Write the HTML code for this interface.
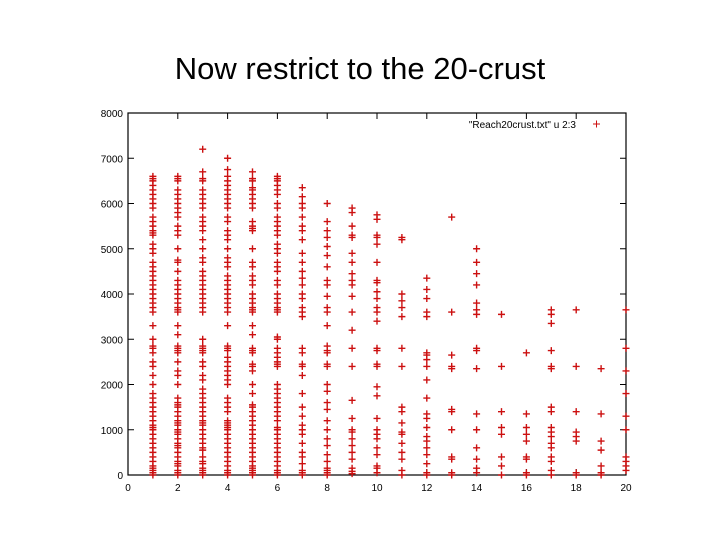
<!DOCTYPE html>
<html><head><meta charset="utf-8"><style>
body{margin:0;background:#fff;width:720px;height:540px;overflow:hidden}
svg{display:block}
text{font-family:"Liberation Sans",sans-serif}
</style></head><body>
<svg id="chart" width="720" height="540">
<text x="360" y="79" text-anchor="middle" font-size="31" fill="#000">Now restrict to the 20-crust</text>
<g id="axes"></g><g id="marks"></g>
</svg>
<script>
const xTicks=[0,2,4,6,8,10,12,14,16,18,20];
const yTicks=[0,1000,2000,3000,4000,5000,6000,7000,8000];
const legendLabel='"Reach20crust.txt" u 2:3';
const col1=[0,50,100,150,200,300,400,500,600,700,800,900,1000,1050,1100,1200,1300,1400,1500,1600,1700,1800,2000,2200,2400,2500,2700,2800,2850,3000,3300,3600,3700,3800,3900,4000,4100,4200,4300,4400,4500,4600,4700,4900,5000,5100,5300,5350,5400,5500,5600,5700,5900,6000,6100,6200,6300,6400,6500,6550,6600];
const col2=[0,50,100,200,250,300,400,500,600,650,700,800,900,950,1000,1100,1150,1200,1300,1400,1500,1550,1600,1700,2000,2200,2300,2500,2700,2750,2800,2850,3100,3300,3600,3650,3700,3800,3900,4000,4100,4200,4300,4500,4700,4750,5000,5300,5400,5500,5700,5800,5900,6000,6100,6200,6300,6500,6550,6600];
const col3=[0,50,100,150,250,300,400,550,600,700,800,900,1000,1100,1150,1200,1300,1400,1500,1600,1700,1800,1900,2100,2200,2400,2500,2700,2750,2800,2850,3000,3600,3700,3800,3900,4000,4100,4200,4300,4400,4500,4700,4800,5000,5200,5400,5500,5600,5700,5900,6000,6100,6200,6300,6500,6550,6700,7200];
const col4=[0,50,100,200,300,400,500,600,700,800,900,1000,1050,1100,1150,1200,1400,1500,1600,1700,2000,2100,2200,2300,2400,2500,2600,2750,2800,2850,3300,3600,3700,3800,3900,4000,4100,4200,4300,4400,4600,4700,4800,5000,5200,5300,5400,5600,5700,5900,6000,6100,6200,6300,6400,6500,6600,6750,7000];
const col5=[0,50,100,150,200,300,400,500,600,700,800,900,1000,1100,1200,1300,1400,1500,1550,1800,2000,2300,2400,2450,2700,2750,2800,3100,3300,3600,3650,3700,3800,3900,4000,4200,4300,4400,4600,4700,5000,5400,5450,5500,5600,5900,6000,6100,6200,6300,6350,6500,6550,6700];
const col6=[0,50,100,200,300,400,500,600,700,800,900,1000,1050,1200,1300,1400,1500,1600,1700,1800,1900,2000,2400,2450,2500,2600,2700,2800,3000,3050,3600,3650,3700,3800,3900,4000,4200,4300,4500,4600,4700,4900,5000,5100,5300,5400,5500,5600,5700,5900,6000,6200,6300,6400,6500,6550,6600];
const col7=[0,50,100,250,400,500,700,900,1000,1100,1300,1500,1800,2200,2400,2450,2700,2800,3500,3600,3700,3900,4000,4200,4350,4500,4700,4900,5200,5400,5500,5700,5900,6000,6150,6350];
const col8=[0,50,100,150,300,450,650,800,1000,1200,1450,1600,1850,2000,2400,2450,2700,2750,2850,3300,3600,3700,3950,4200,4300,4600,4850,5050,5250,5400,5600,6000];
const col9=[30,80,150,350,500,650,800,950,1000,1250,1650,2400,2800,3200,3600,3950,4200,4300,4450,4700,4900,5250,5300,5500,5800,5900];
const col10=[50,150,200,450,600,800,900,1000,1250,1750,1950,2400,2450,2750,2800,3400,3600,3700,3900,4050,4250,4300,4700,5100,5250,5300,5650,5750];
const col11=[0,100,350,500,700,900,950,1150,1400,1500,2400,2800,3500,3700,3850,4000,5200,5250];
const col12=[0,50,250,450,600,750,850,1050,1250,1350,1700,2100,2400,2550,2650,2700,3500,3600,3900,4100,4350];
const col13=[0,50,350,400,1000,1400,1450,2350,2400,2650,3600,5700];
const col14=[50,150,350,600,1000,1350,2350,2750,2800,3550,3650,3800,4200,4450,4700,5000];
const col15=[0,200,400,900,1050,1400,2400,3550];
const col16=[0,50,350,400,750,900,1050,1350,2700];
const col17=[0,100,300,400,600,700,850,950,1050,1400,1500,2350,2400,2750,3350,3550,3650];
const col18=[0,50,750,850,950,1400,2400,3650];
const col19=[0,50,200,550,750,1350,2350];
const col20=[100,200,300,400,1000,1300,1800,2300,2800,3650];
const columns=[col1,col2,col3,col4,col5,col6,col7,col8,col9,col10,col11,col12,col13,col14,col15,col16,col17,col18,col19,col20];
const X0=128,X1=626,Y0=475,Y1=113;
const sx=v=>X0+(X1-X0)*v/20, sy=v=>Y0-(Y0-Y1)*v/8000;
const NS='http://www.w3.org/2000/svg';
const axes=document.getElementById('axes'), marks=document.getElementById('marks');
function mk(tag,attrs,parent){const e=document.createElementNS(NS,tag);for(const k in attrs)e.setAttribute(k,attrs[k]);parent.appendChild(e);return e;}
const frame=mk('rect',{x:X0,y:Y1,width:X1-X0,height:Y0-Y1,fill:'none',stroke:'#000','stroke-width':1.2},axes);


xTicks.forEach(t=>{const x=sx(t);
 const l=mk('path',{d:`M${x},${Y0}v-6M${x},${Y1}v6`,stroke:'#000'},axes);
 
 
 const tx=mk('text',{x:x,y:Y0+16,'text-anchor':'middle','font-size':10},axes);tx.textContent=t;
 
 });
yTicks.forEach(t=>{const y=sy(t);
 const l=mk('path',{d:`M${X0},${y}h6M${X1},${y}h-6`,stroke:'#000'},axes);
 
 
 const tx=mk('text',{x:X0-5,y:y+4,'text-anchor':'end','font-size':10},axes);tx.textContent=t;
 
 });
const lg=mk('text',{x:576,y:128,'text-anchor':'end','font-size':10},axes);lg.textContent=legendLabel;


const lm=mk('path',{d:'M593,124h7M596.5,120.5v7',stroke:'#cc1010','stroke-width':1},axes);


columns.forEach((vals,i)=>{const x=sx(i+1);vals.forEach(v=>{const y=sy(v);
 const p=mk('path',{d:`M${x-3.5},${y}h7M${x},${y-3.5}v7`,stroke:'#cc1010','stroke-width':1.4},marks);
 
 });});
</script>
</body></html>
